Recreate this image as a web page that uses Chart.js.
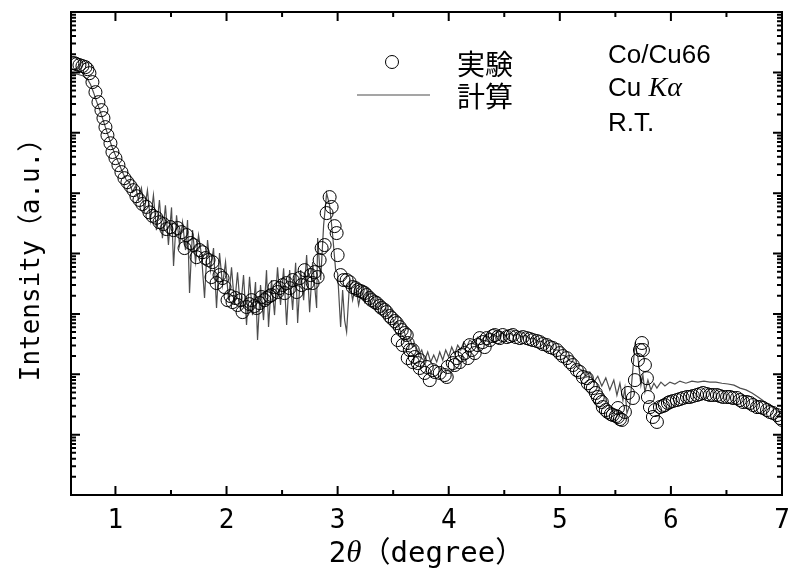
<!DOCTYPE html>
<html>
<head>
<meta charset="utf-8">
<script src="https://cdn.jsdelivr.net/npm/chart.js@4.4.1/dist/chart.umd.min.js"></script>
<style>
  html, body { margin: 0; padding: 0; background: #fff; }
  #wrap { width: 792px; height: 569px; }
</style>
</head>
<body>
<div id="wrap"><canvas id="xrd" width="792" height="569"></canvas></div>
<script>
// 実験 (measured) : 2θ in degree, intensity in a.u.
const expTheta = [
  0.613, 0.631, 0.649, 0.676, 0.703, 0.730, 0.748, 0.766, 0.793, 0.820,
  0.847, 0.874, 0.892, 0.910, 0.928, 0.955, 0.973, 1.000, 1.027, 1.054,
  1.081, 1.108, 1.135, 1.162, 1.189, 1.216, 1.243, 1.279, 1.306, 1.333,
  1.369, 1.396, 1.432, 1.459, 1.495, 1.523, 1.559, 1.595, 1.622, 1.640,
  1.676, 1.703, 1.730, 1.757, 1.784, 1.811, 1.838, 1.874, 1.865, 1.910,
  1.937, 1.964, 1.982, 2.009, 2.036, 2.054, 2.081, 2.099, 2.126, 2.144,
  2.180, 2.207, 2.225, 2.252, 2.270, 2.297, 2.315, 2.342, 2.360, 2.387,
  2.405, 2.432, 2.459, 2.477, 2.505, 2.523, 2.541, 2.568, 2.595, 2.631,
  2.658, 2.676, 2.703, 2.730, 2.757, 2.775, 2.793, 2.820, 2.838, 2.856,
  2.883, 2.901, 2.928, 2.946, 2.973, 2.991, 3.000, 3.027, 3.054, 3.081,
  3.108, 3.135, 3.162, 3.180, 3.207, 3.225, 3.243, 3.261, 3.288, 3.306,
  3.333, 3.351, 3.378, 3.396, 3.423, 3.441, 3.468, 3.486, 3.514, 3.532,
  3.541, 3.559, 3.577, 3.586, 3.604, 3.622, 3.631, 3.649, 3.676, 3.631,
  3.676, 3.694, 3.721, 3.739, 3.739, 3.784, 3.802, 3.829, 3.856, 3.874,
  3.919, 3.964, 3.982, 3.991, 4.036, 4.054, 4.072, 4.099, 4.117, 4.144,
  4.171, 4.189, 4.207, 4.234, 4.261, 4.279, 4.306, 4.324, 4.342, 4.369,
  4.396, 4.414, 4.441, 4.459, 4.486, 4.523, 4.550, 4.577, 4.604, 4.640,
  4.667, 4.703, 4.730, 4.757, 4.793, 4.820, 4.847, 4.883, 4.910, 4.937,
  4.973, 5.000, 5.027, 5.063, 5.090, 5.117, 5.153, 5.180, 5.207, 5.243,
  5.252, 5.279, 5.297, 5.324, 5.342, 5.360, 5.378, 5.387, 5.414, 5.432,
  5.459, 5.477, 5.505, 5.523, 5.523, 5.541, 5.559, 5.586, 5.613, 5.658,
  5.676, 5.703, 5.721, 5.739, 5.748, 5.766, 5.784, 5.793, 5.811, 5.838,
  5.856, 5.874, 5.901, 5.928, 5.946, 5.973, 5.991, 6.018, 6.054, 6.081,
  6.108, 6.144, 6.171, 6.198, 6.234, 6.261, 6.288, 6.324, 6.351, 6.378,
  6.414, 6.441, 6.468, 6.505, 6.532, 6.559, 6.595, 6.622, 6.649, 6.685,
  6.712, 6.739, 6.775, 6.802, 6.829, 6.865, 6.892, 6.919, 6.955, 6.982,
  7.000
];
const expIntensity = [
  1.42e7, 1.42e7, 1.37e7, 1.32e7, 1.27e7, 1.22e7, 1.13e7, 9.7e6, 6.9e6, 4.7e6,
  3.21e6, 2.37e6, 1.75e6, 1.24e6, 9.1e5, 6.7e5, 4.8e5, 3.8e5, 2.91e5, 2.23e5,
  1.77e5, 1.52e5, 1.31e5, 1.12e5, 8.9e4, 7.7e4, 6.6e4, 5.9e4, 4.8e4, 4.2e4,
  3.9e4, 3.3e4, 3.07e4, 2.54e4, 2.74e4, 2.44e4, 2.64e4, 2.26e4, 1.23e4, 2.02e4,
  1.49e4, 1.38e4, 8.7e3, 1.14e4, 1.05e4, 8.4e3, 7.8e3, 7.2e3, 4.07e3, 3.24e3,
  4.39e3, 3.92e3, 2.78e3, 1.69e3, 1.97e3, 1.57e3, 1.83e3, 1.40e3, 1.69e3, 1.07e3,
  1.30e3, 1.45e3, 1.69e3, 1.35e3, 1.25e3, 1.51e3, 1.90e3, 1.69e3, 1.83e3, 1.97e3,
  2.05e3, 2.78e3, 2.30e3, 2.67e3, 3.0e3, 2.21e3, 3.24e3, 2.67e3, 3.63e3, 2.30e3,
  3.92e3, 3.0e3, 5.3e3, 3.24e3, 4.39e3, 3.24e3, 4.92e3, 4.07e3, 7.8e3, 1.23e4,
  1.38e4, 4.67e4, 8.6e4, 5.9e4, 2.84e4, 2.18e4, 9.4e3, 4.39e3, 3.63e3, 3.63e3,
  3.36e3, 2.78e3, 2.67e3, 2.48e3, 2.39e3, 2.30e3, 2.21e3, 2.05e3, 1.83e3, 1.69e3,
  1.57e3, 1.51e3, 1.35e3, 1.25e3, 1.16e3, 1.07e3, 920, 852, 760, 704,
  368, 604, 539, 304, 481, 446, 329, 252, 252, 185,
  159, 193, 153, 172, 127, 105, 132, 80, 117, 109,
  105, 97, 90, 132, 153, 142, 185, 159, 208, 224,
  185, 304, 252, 224, 304, 397, 341, 282, 397, 368,
  429, 446, 413, 397, 446, 413, 429, 446, 413, 397,
  413, 397, 383, 368, 355, 341, 316, 304, 282, 272,
  252, 224, 200, 185, 159, 142, 117, 109, 90, 86,
  71, 64, 59, 49, 42, 37.4, 34.7, 28.6, 25.5, 23.7,
  21.9, 21.1, 20.3, 19.6, 27.6, 18.1, 17.5, 23.7, 49, 40.4,
  80, 172, 252, 329, 252, 142, 86, 42, 28.6, 19.6,
  25.5, 16.2, 28.6, 29.8, 30.9, 33.4, 34.7, 36.0, 37.4, 38.8,
  40.4, 42, 42, 43.6, 45.3, 47.0, 49, 47.0, 45.3, 45.3,
  45.3, 43.6, 42, 42, 42, 40.4, 40.4, 37.4, 34.7, 34.7,
  33.4, 30.9, 28.6, 28.6, 27.6, 25.5, 23.7, 22.8, 21.1, 18.8,
  17.5
];

// 計算 (simulated)
const calcTheta = [
  0.604, 0.658, 0.712, 0.748, 0.775, 0.802, 0.829, 0.856, 0.883, 0.910,
  0.937, 0.964, 0.991, 1.018, 1.045, 1.072, 1.099, 1.126, 1.153, 1.180,
  1.207, 1.234, 1.261, 1.288, 1.315, 1.342, 1.369, 1.396, 1.423, 1.450,
  1.477, 1.505, 1.523, 1.550, 1.577, 1.604, 1.631, 1.649, 1.667, 1.694,
  1.721, 1.748, 1.775, 1.802, 1.829, 1.856, 1.883, 1.910, 1.937, 1.964,
  1.991, 2.018, 2.045, 2.072, 2.099, 2.126, 2.153, 2.180, 2.207, 2.234,
  2.261, 2.279, 2.306, 2.333, 2.360, 2.378, 2.405, 2.432, 2.459, 2.486,
  2.514, 2.541, 2.568, 2.595, 2.622, 2.640, 2.667, 2.694, 2.721, 2.748,
  2.775, 2.811, 2.820, 2.847, 2.874, 2.901, 2.928, 2.955, 2.982, 3.000,
  3.027, 3.045, 3.063, 3.081, 3.108, 3.135, 3.162, 3.189, 3.216, 3.243,
  3.270, 3.297, 3.324, 3.351, 3.378, 3.405, 3.432, 3.459, 3.486, 3.514,
  3.541, 3.568, 3.595, 3.622, 3.649, 3.676, 3.703, 3.730, 3.757, 3.784,
  3.811, 3.838, 3.865, 3.892, 3.919, 3.946, 3.973, 4.000, 4.027, 4.054,
  4.081, 4.108, 4.135, 4.162, 4.189, 4.225, 4.261, 4.297, 4.333, 4.369,
  4.405, 4.441, 4.477, 4.514, 4.550, 4.586, 4.622, 4.658, 4.694, 4.730,
  4.766, 4.802, 4.838, 4.874, 4.910, 4.946, 4.982, 5.018, 5.054, 5.090,
  5.126, 5.162, 5.198, 5.234, 5.270, 5.306, 5.342, 5.378, 5.414, 5.450,
  5.486, 5.514, 5.541, 5.568, 5.586, 5.604, 5.631, 5.649, 5.676, 5.703,
  5.730, 5.748, 5.766, 5.793, 5.820, 5.847, 5.874, 5.910, 5.946, 5.991,
  6.036, 6.081, 6.135, 6.189, 6.243, 6.297, 6.351, 6.405, 6.459, 6.514,
  6.568, 6.622, 6.676, 6.730, 6.784, 6.838, 6.892, 6.946, 7.000
];
const calcIntensity = [
  9.7e6, 9.3e6, 8.7e6, 7.7e6, 6.35e6, 4.7e6, 3.34e6, 2.46e6, 1.75e6, 1.23e6,
  8.7e5, 6.2e5, 4.64e5, 3.52e5, 2.69e5, 2.06e5, 1.64e5, 1.52e5, 1.04e5, 1.31e5,
  7.7e4, 1.21e5, 5.2e4, 1.12e5, 3.57e4, 9.3e4, 2.44e4, 7.7e4, 1.8e4, 6.3e4,
  1.38e4, 5.8e4, 6.2e3, 4.3e4, 1.38e4, 3.3e4, 1.14e4, 3.57e4, 2.21e3, 2.44e4,
  7.2e3, 2.02e4, 9.4e3, 1.83e3, 1.67e4, 5.3e3, 1.23e4, 1.25e3, 1.02e4, 3.0e3,
  7.2e3, 1.69e3, 5.9e3, 1.40e3, 4.9e3, 1.16e3, 4.4e3, 653, 4.1e3, 955,
  3.37e3, 368, 3.0e3, 789, 5.3e3, 605, 3.63e3, 955, 5.9e3, 1.40e3,
  5.7e3, 653, 5.3e3, 1.16e3, 7.0e3, 704, 5.3e3, 1.69e3, 9.4e3, 1.07e3,
  7.2e3, 1.25e3, 1.8e4, 3.63e3, 2.95e4, 1.0e5, 6.3e4, 2.02e4, 5.3e3, 4.7e3,
  605, 2.48e3, 789, 500, 3.37e3, 1.69e3, 3.0e3, 1.40e3, 2.48e3, 1.57e3,
  2.3e3, 1.40e3, 1.83e3, 1.25e3, 1.57e3, 1.07e3, 1.25e3, 852, 955, 653,
  731, 500, 539, 368, 398, 282, 304, 208, 252, 172,
  234, 159, 208, 159, 234, 172, 252, 193, 282, 216,
  304, 252, 341, 282, 368, 328, 413, 368, 446, 398,
  463, 413, 481, 429, 481, 429, 463, 413, 446, 383,
  398, 341, 355, 293, 304, 252, 252, 208, 200, 166,
  159, 127, 117, 93, 109, 74, 93, 64, 87, 55,
  80, 45, 71, 37, 59, 22.7, 31, 80, 304, 193,
  66, 97, 51, 80, 55, 71, 59, 74, 64, 74,
  69, 77, 71, 77, 74, 77, 74, 74, 71, 69,
  66, 59, 55, 49, 42, 35.6, 31, 26.6, 21.9
];

// ejes
const xTickValues = [1, 2, 3, 4, 5, 6, 7];
const xMinorValues = [1.5, 2.5, 3.5, 4.5, 5.5, 6.5];
const yDecadeValues = [1, 10, 100, 1e3, 1e4, 1e5, 1e6, 1e7, 1e8];
const yMinorSteps = [2, 3, 4, 5, 6, 7, 8, 9];

const monoFont = '"DejaVu Sans Mono", "Noto Sans CJK JP", monospace';
const sansFont = '"Liberation Sans", Arial, sans-serif';
const serifFont = '"Liberation Serif", "DejaVu Serif", serif';
const cjkFont = '"Noto Sans CJK JP", sans-serif';

const expPoints = expTheta.map((t, i) => ({ x: t, y: expIntensity[i] }));
const calcPoints = calcTheta.map((t, i) => ({ x: t, y: calcIntensity[i] }));

// dibuja un texto con varias fuentes, centrado o desde la izquierda
function drawParts(ctx, parts, xPos, baseline, centered) {
  let total = 0;
  parts.forEach(p => { ctx.font = p.font; p.w = ctx.measureText(p.text).width; total += p.w; });
  let cx = centered ? xPos - total / 2 : xPos;
  ctx.textBaseline = 'alphabetic';
  ctx.textAlign = 'left';
  parts.forEach(p => { ctx.font = p.font; ctx.fillText(p.text, cx, baseline); cx += p.w; });
}

const frameAndLegend = {
  id: 'frameAndLegend',
  afterDraw(chart) {
    const { ctx, chartArea: a, scales: { x, y } } = chart;
    ctx.save();
    ctx.strokeStyle = '#000';
    ctx.fillStyle = '#000';

    // marco
    ctx.lineWidth = 2;
    ctx.strokeRect(a.left, a.top, a.right - a.left, a.bottom - a.top);

    // marcas hacia dentro en los cuatro lados
    ctx.lineWidth = 2;
    ctx.beginPath();
    xTickValues.forEach(v => {
      const px = x.getPixelForValue(v);
      ctx.moveTo(px, a.bottom); ctx.lineTo(px, a.bottom - 9);
      ctx.moveTo(px, a.top); ctx.lineTo(px, a.top + 9);
    });
    xMinorValues.forEach(v => {
      const px = x.getPixelForValue(v);
      ctx.moveTo(px, a.bottom); ctx.lineTo(px, a.bottom - 5);
      ctx.moveTo(px, a.top); ctx.lineTo(px, a.top + 5);
    });
    yDecadeValues.forEach((d, i) => {
      const py = y.getPixelForValue(d);
      ctx.moveTo(a.left, py); ctx.lineTo(a.left + 9, py);
      ctx.moveTo(a.right, py); ctx.lineTo(a.right - 9, py);
      if (i < yDecadeValues.length - 1) {
        yMinorSteps.forEach(k => {
          const pm = y.getPixelForValue(k * d);
          ctx.moveTo(a.left, pm); ctx.lineTo(a.left + 5, pm);
          ctx.moveTo(a.right, pm); ctx.lineTo(a.right - 5, pm);
        });
      }
    });
    ctx.stroke();

    // título del eje x
    drawParts(ctx, [
      { text: '2', font: '29px ' + monoFont },
      { text: 'θ', font: 'italic 31px ' + serifFont },
      { text: '（degree）', font: '29px ' + monoFont }
    ], (a.left + a.right) / 2, 562, true);

    // leyenda
    const expDs = chart.data.datasets[0];
    const calcDs = chart.data.datasets[1];
    ctx.lineWidth = expDs.borderWidth;
    ctx.strokeStyle = expDs.borderColor;
    ctx.beginPath();
    ctx.arc(392, 62, expDs.pointRadius, 0, Math.PI * 2);
    ctx.stroke();
    ctx.lineWidth = calcDs.borderWidth;
    ctx.strokeStyle = calcDs.borderColor;
    ctx.beginPath();
    ctx.moveTo(357, 95); ctx.lineTo(430, 95);
    ctx.stroke();
    ctx.fillStyle = '#000';
    ctx.font = '28px ' + cjkFont;
    ctx.textAlign = 'left';
    ctx.textBaseline = 'middle';
    ctx.fillText(expDs.label, 457, 64);
    ctx.fillText(calcDs.label, 457, 96);

    // condiciones de medida
    drawParts(ctx, [{ text: 'Co/Cu66', font: '26px ' + sansFont }], 608, 63, false);
    drawParts(ctx, [
      { text: 'Cu ', font: '26px ' + sansFont },
      { text: 'Kα', font: 'italic 28px ' + serifFont }
    ], 608, 96, false);
    drawParts(ctx, [{ text: 'R.T.', font: '26px ' + sansFont }], 608, 131, false);
    ctx.restore();
  }
};

const ctx = document.getElementById('xrd').getContext('2d');
new Chart(ctx, {
  type: 'scatter',
  data: {
    datasets: [
      {
        label: '実験',
        data: expPoints,
        showLine: false,
        pointStyle: 'circle',
        pointRadius: 6.5,
        pointHoverRadius: 6.5,
        borderWidth: 1,
        borderColor: '#000',
        backgroundColor: 'rgba(0,0,0,0)'
      },
      {
        label: '計算',
        data: calcPoints,
        showLine: true,
        pointRadius: 0,
        borderWidth: 1.2,
        borderColor: '#4d4d4d',
        backgroundColor: '#4d4d4d',
        tension: 0
      }
    ]
  },
  options: {
    responsive: false,
    animation: false,
    devicePixelRatio: 1,
    layout: { padding: { left: 0, right: 10, top: 12, bottom: 0 } },
    plugins: {
      legend: { display: false },
      tooltip: { enabled: false }
    },
    scales: {
      x: {
        type: 'linear',
        min: 0.6,
        max: 7,
        grid: { display: false, drawTicks: false },
        border: { display: false },
        afterBuildTicks: scale => { scale.ticks = xTickValues.map(v => ({ value: v })); },
        afterFit: scale => {
          scale.height = 74;
          scale.paddingLeft = 0;
          scale.paddingRight = 0;
        },
        ticks: {
          color: '#000',
          padding: 11,
          maxRotation: 0,
          autoSkip: false,
          font: { family: monoFont, size: 26 },
          callback: v => String(v)
        }
      },
      y: {
        type: 'logarithmic',
        min: 1,
        max: 1e8,
        grid: { display: false, drawTicks: false },
        border: { display: false },
        afterFit: scale => { scale.width = 71; },
        ticks: { display: false },
        title: {
          display: true,
          text: 'Intensity（a.u.）',
          color: '#000',
          padding: { top: 17, bottom: 0 },
          font: { family: monoFont, size: 26 }
        }
      }
    }
  },
  plugins: [frameAndLegend]
});
</script>
</body>
</html>
